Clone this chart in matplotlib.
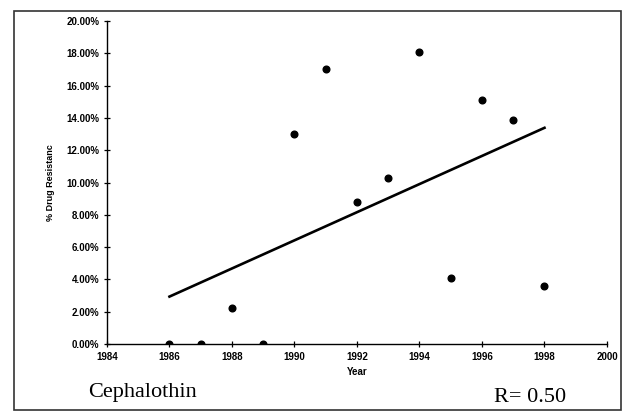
import numpy as np
import matplotlib.pyplot as plt
from matplotlib.patches import Rectangle
from matplotlib.ticker import FuncFormatter

# data
years = [1986, 1987, 1988, 1989, 1990, 1991, 1992, 1993, 1994, 1995, 1996, 1997, 1998]
resistance = [0.0, 0.0, 2.2, 0.0, 13.0, 17.0, 8.8, 10.3, 18.1, 4.1, 15.1, 13.9, 3.6]
drug_name = 'Cephalothin'
r_label = 'R= 0.50'

x_ticks = np.arange(1984, 2001, 2)
y_ticks = np.arange(0, 20.1, 2)

# linear trend through the points
slope, intercept = np.polyfit(years, resistance, 1)
fit_x = np.array([min(years), max(years)])
fit_y = slope * fit_x + intercept

fig = plt.figure(figsize=(6.23, 4.12), dpi=100)
ax = fig.add_axes([0.1717, 0.165, 0.8026, 0.784])

ax.plot(years, resistance, 'o', color='black', markersize=4.8)
ax.plot(fit_x, fit_y, color='black', linewidth=1.9)

ax.set_xlim(1984, 2000)
ax.set_ylim(0, 20)
ax.set_xticks(x_ticks)
ax.set_yticks(y_ticks)
ax.yaxis.set_major_formatter(FuncFormatter(lambda v, pos: f'{v:.2f}%'))

for side in ['top', 'right']:
    ax.spines[side].set_visible(False)
for side in ['left', 'bottom']:
    ax.spines[side].set_linewidth(1.0)

ax.tick_params(direction='inout', length=5, width=0.9, colors='black', pad=3)
for lbl in ax.get_xticklabels() + ax.get_yticklabels():
    lbl.set_fontfamily('Liberation Sans')
    lbl.set_fontweight('bold')
    lbl.set_fontsize(7)

ax.set_xlabel('Year', fontfamily='Liberation Sans', fontweight='bold', fontsize=7, labelpad=4)
ax.set_ylabel('% Drug Resistanc', fontfamily='Liberation Sans', fontweight='bold', fontsize=6.5, labelpad=8)

fig.text(0.141, 0.037, drug_name, fontfamily='Liberation Serif', fontsize=16)
fig.text(0.793, 0.024, r_label, fontfamily='Liberation Serif', fontsize=16)

# border of the scanned panel
fig.add_artist(Rectangle((14 / 623, 2 / 412), 607 / 623, 399 / 412, transform=fig.transFigure,
                         fill=False, edgecolor='#333333', linewidth=1.2))

fig.savefig('out.png', dpi=100)
